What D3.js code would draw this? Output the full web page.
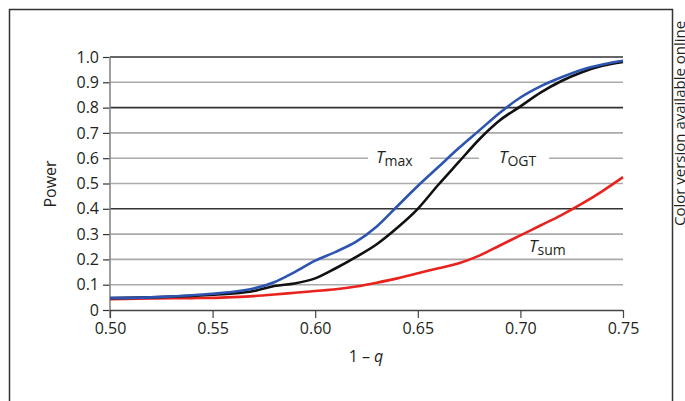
<!DOCTYPE html>
<html>
<head>
  <meta charset="utf-8">
  <script src="https://cdn.jsdelivr.net/npm/d3@7"></script>
  <style>
    body { margin: 0; background: #fff; }
    text { font-family: "Open Sans", "Noto Sans", sans-serif; fill: #231f20; }
  </style>
</head>
<body>
  <svg width="685" height="401" id="mainsvg"></svg>
  <script>
    const svg = d3.select('#mainsvg');

    // data
    const q = [0.50, 0.52, 0.54, 0.55, 0.56, 0.57, 0.58, 0.59, 0.60, 0.61, 0.62, 0.63, 0.64,
               0.65, 0.66, 0.67, 0.68, 0.69, 0.70, 0.71, 0.72, 0.73, 0.74, 0.75];
    const tMax = [0.047, 0.050, 0.058, 0.064, 0.072, 0.085, 0.110, 0.150, 0.195, 0.230, 0.270, 0.330, 0.410,
                  0.490, 0.565, 0.640, 0.710, 0.780, 0.840, 0.885, 0.920, 0.950, 0.970, 0.985];
    const tOGT = [0.047, 0.050, 0.056, 0.060, 0.065, 0.075, 0.095, 0.105, 0.125, 0.165, 0.210, 0.260, 0.325,
                  0.400, 0.495, 0.585, 0.675, 0.750, 0.805, 0.860, 0.905, 0.940, 0.965, 0.980];
    const tSum = [0.043, 0.046, 0.047, 0.048, 0.051, 0.055, 0.061, 0.068, 0.075, 0.082, 0.093, 0.108, 0.125,
                  0.145, 0.165, 0.185, 0.215, 0.255, 0.295, 0.335, 0.375, 0.420, 0.470, 0.525];
    const xTicks = [0.50, 0.55, 0.60, 0.65, 0.70, 0.75];
    const yTicks = [0, 0.1, 0.2, 0.3, 0.4, 0.5, 0.6, 0.7, 0.8, 0.9, 1.0];
    const darkGrid = [1.0, 0.8, 0.4];

    const xScale = d3.scaleLinear().domain([0.5, 0.75]).range([110, 623]);
    const yScale = d3.scaleLinear().domain([0, 1]).range([310, 57]);

    // outer frame (open at the bottom)
    svg.append('path')
      .attr('d', 'M9.5,401 L9.5,9.5 L672.5,9.5 L672.5,401')
      .attr('fill', 'none')
      .attr('stroke', '#333')
      .attr('stroke-width', 1.5);

    svg.append('text')
      .attr('transform', 'translate(685,226) rotate(-90)')
      .attr('font-size', 15)
      .text('Color version available online');

    // grid lines
    svg.append('g').selectAll('line')
      .data(yTicks.filter(d => d > 0))
      .join('line')
      .attr('x1', 110).attr('x2', 623)
      .attr('y1', d => yScale(d)).attr('y2', d => yScale(d))
      .attr('stroke', d => darkGrid.some(v => Math.abs(v - d) < 1e-6) ? '#333' : '#aaa')
      .attr('stroke-width', 1.6);

    // y axis
    const yAxis = d3.axisLeft(yScale)
      .tickValues(yTicks)
      .tickFormat(d => d === 0 ? '0' : d3.format('.1f')(d))
      .tickSize(7)
      .tickPadding(4);
    const yG = svg.append('g').attr('transform', 'translate(110,0)').call(yAxis);
    yG.select('.domain').remove();
    yG.selectAll('.tick line').attr('stroke', '#333').attr('stroke-width', 1.2);
    yG.selectAll('.tick text').attr('font-size', 16).attr('fill', '#231f20')
      .attr('font-family', '"Open Sans", sans-serif');
    svg.append('line')
      .attr('x1', 110).attr('x2', 110).attr('y1', 57).attr('y2', 318)
      .attr('stroke', '#888').attr('stroke-width', 1.6);

    // x axis
    const xAxis = d3.axisBottom(xScale)
      .tickValues(xTicks)
      .tickFormat(d3.format('.2f'))
      .tickSize(8)
      .tickPadding(5);
    const xG = svg.append('g').attr('transform', 'translate(0,310)').call(xAxis);
    xG.select('.domain').attr('stroke', '#444').attr('stroke-width', 1.4).attr('d', 'M110,0.5H623');
    xG.selectAll('.tick line').attr('stroke', '#444').attr('stroke-width', 1.2);
    xG.selectAll('.tick text').attr('font-size', 16).attr('fill', '#231f20')
      .attr('font-family', '"Open Sans", sans-serif');

    // axis titles
    svg.append('text')
      .attr('transform', 'translate(56,184) rotate(-90)')
      .attr('text-anchor', 'middle')
      .attr('font-size', 16)
      .text('Power');
    const xt = svg.append('text')
      .attr('x', 366).attr('y', 362)
      .attr('text-anchor', 'middle')
      .attr('font-size', 16);
    xt.append('tspan').text('1 \u2013 ');
    xt.append('tspan').attr('font-style', 'italic').text('q');

    // white patches behind in-line labels
    svg.append('rect').attr('x', 368).attr('y', 150).attr('width', 62).attr('height', 16).attr('fill', '#fff');
    svg.append('rect').attr('x', 479).attr('y', 150).attr('width', 70).attr('height', 16).attr('fill', '#fff');

    // curves
    const series = [
      { name: 'sum', values: tSum, color: '#e8231d' },
      { name: 'ogt', values: tOGT, color: '#111' },
      { name: 'max', values: tMax, color: '#2c54b0' }
    ];
    const line = d3.line()
      .x((d, i) => xScale(q[i]))
      .y(d => yScale(d))
      .curve(d3.curveMonotoneX);
    svg.append('g').selectAll('path')
      .data(series)
      .join('path')
      .attr('d', d => line(d.values))
      .attr('fill', 'none')
      .attr('stroke', d => d.color)
      .attr('stroke-width', 2.6);

    // curve labels
    function label(x, y, sub) {
      const t = svg.append('text').attr('x', x).attr('y', y).attr('font-size', 17);
      t.append('tspan').attr('font-style', 'italic').text('T');
      t.append('tspan').attr('font-size', 14).attr('dy', 3).text(sub);
    }
    label(376, 163, 'max');
    label(499, 163, 'OGT');
    label(529, 252, 'sum');
  </script>
</body>
</html>
